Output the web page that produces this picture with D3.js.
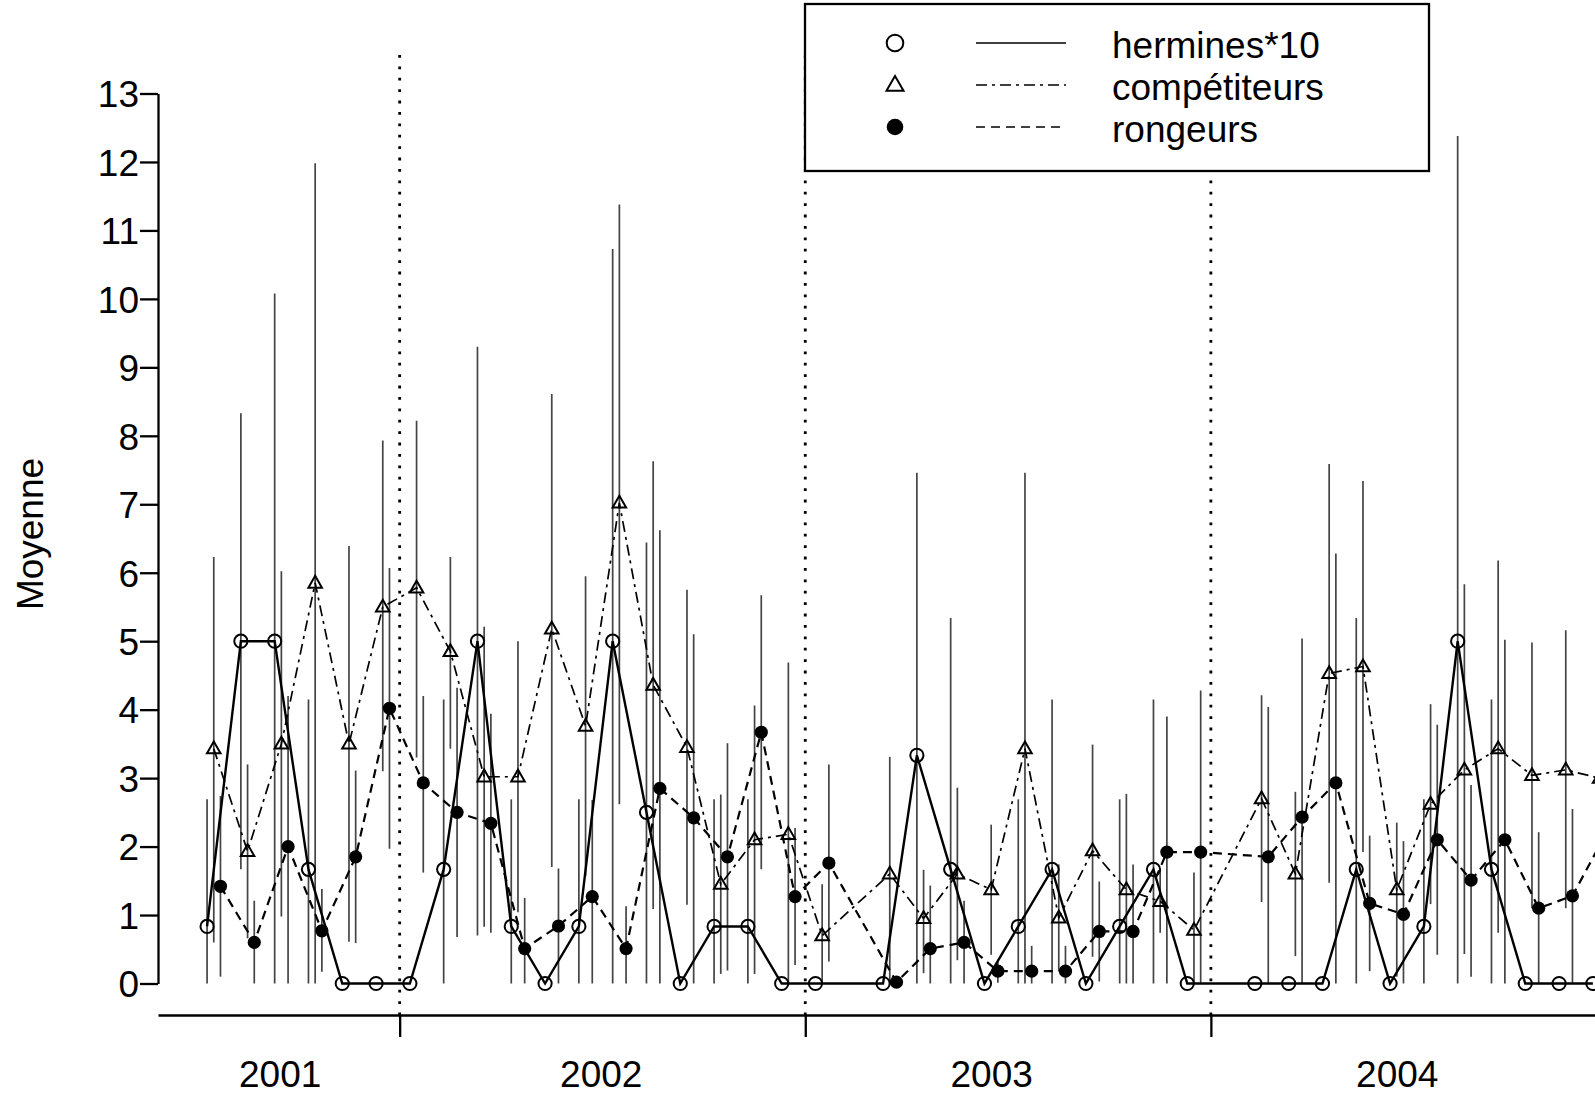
<!DOCTYPE html>
<html>
<head>
<meta charset="utf-8">
<script src="https://cdn.jsdelivr.net/npm/d3@7"></script>
<style>
    body { margin: 0; background: #fff; }
    svg { display: block; }
</style>
</head>
<body>
<script>
// #region DATA
var months = ["2001-07", "2001-08", "2001-09", "2001-10", "2001-11", "2001-12",
    "2002-01", "2002-02", "2002-03", "2002-04", "2002-05", "2002-06", "2002-07", "2002-08", "2002-09", "2002-10", "2002-11", "2002-12",
    "2003-01", "2003-02", "2003-03", "2003-04", "2003-05", "2003-06", "2003-07", "2003-08", "2003-09", "2003-10", "2003-11", "2003-12",
    "2004-01", "2004-02", "2004-03", "2004-04", "2004-05", "2004-06", "2004-07", "2004-08", "2004-09", "2004-10", "2004-11", "2004-12"];

// hermines*10 (null = no sampling that month)
var hermines = [0.833, 5, 5, 1.667, 0, 0,
    0, 1.667, 5, 0.833, 0, 0.833, 5, 2.5, 0, 0.833, 0.833, 0,
    0, null, 0, 3.333, 1.667, 0, 0.833, 1.667, 0, 0.833, 1.667, 0,
    null, 0, 0, 0, 1.667, 0, 0.833, 5, 1.667, 0, 0, 0];
var hermHi = [2.69, 8.33, 10.08, 4.15, 0, 0,
    0, 4.15, 9.3, 2.69, 0, 2.69, 10.73, 6.44, 0, 2.69, 2.69, 0,
    0, null, 0, 7.46, 5.34, 0, 2.69, 4.15, 0, 2.69, 4.15, 0,
    null, 0, 0, 0, 5.34, 0, 2.69, 12.38, 4.15, 0, 0, 0];
var hermLo = [0, 1.67, 0, 0, 0, 0,
    0, 0, 0.7, 0, 0, 0, 0, 0, 0, 0, 0, 0,
    0, null, 0, 0, 0, 0, 0, 0, 0, 0, 0, 0,
    null, 0, 0, 0, 0, 0, 0, 0, 0, 0, 0, 0];

// compétiteurs
var compet = [3.43, 1.93, 3.5, 5.85, 3.5, 5.5,
    5.78, 4.85, 3.02, 3.02, 5.18, 3.76, 7.02, 4.36, 3.45, 1.45, 2.1, 2.18,
    0.7, null, 1.6, 0.95, 1.6, 1.37, 3.43, 0.96, 1.94, 1.37, 1.2, 0.78,
    null, 2.7, 1.6, 4.53, 4.63, 1.37, 2.62, 3.12, 3.43, 3.04, 3.12, 3.0];
var compHi = [6.23, 3.2, 6.02, 11.98, 6.39, 7.93,
    8.22, 6.23, 5.21, 5.0, 8.61, 5.95, 11.38, 7.63, 5.75, 2.76, 4.06, 4.69,
    1.45, null, 3.31, 1.66, 2.86, 2.32, 7.46, 1.74, 3.49, 2.77, 1.66, 1.62,
    null, 4.21, 2.8, 7.59, 7.34, 2.35, 4.08, 5.83, 6.18, 4.98, 5.16, 5.0];
var compLo = [0.6, 0.66, 0.98, 0, 0.61, 3.1,
    3.3, 3.43, 0.83, 1.04, 1.7, 1.57, 2.62, 1.09, 1.15, 0.14, 0.14, 0,
    0, null, 0, 0.15, 0.34, 0.42, 0, 0.18, 0.39, 0, 0.74, 0,
    null, 1.19, 0.4, 1.47, 1.92, 0.1, 1.16, 0.43, 0.74, 1.1, 1.1, 1.0];

// rongeurs
var rongeurs = [1.42, 0.6, 2.0, 0.77, 1.85, 4.02,
    2.93, 2.5, 2.34, 0.51, 0.84, 1.27, 0.51, 2.85, 2.42, 1.85, 3.67, 1.27,
    1.76, null, 0.02, 0.51, 0.6, 0.18, 0.18, 0.18, 0.76, 0.76, 1.92, 1.92,
    null, 1.85, 2.43, 2.93, 1.17, 1.01, 2.1, 1.51, 2.1, 1.1, 1.28, 2.2];
var rongHi = [2.74, 1.21, 4.2, 1.38, 3.11, 6.07,
    4.2, 4.32, 3.94, 1.25, 1.68, 2.68, 1.13, 6.62, 5.1, 3.51, 5.67, 2.27,
    3.2, null, 0.02, 1.43, 1.21, 0.35, 0.55, 0.55, 1.49, 1.74, 3.9, 4.28,
    null, 4.04, 5.04, 6.28, 2.16, 2.08, 3.78, 2.9, 5.02, 2.21, 2.55, 3.5];
var rongLo = [0.1, 0, 0, 0.17, 0.59, 1.97,
    1.62, 0.68, 0.74, 0, 0, 0, 0, 0, 0, 0.19, 1.67, 0.27,
    0.32, null, 0.02, 0, 0, 0.01, 0, 0, 0.03, 0, 0, 0,
    null, 0, 0, 0, 0.18, 0, 0.42, 0.1, 0, 0, 0, 0.9];

var years = ["2001", "2002", "2003", "2004"];
var yearLabelAt = [1.95, 11.45, 23.0, 35.0];   // in month index units
var yearBreaks = [5.5, 17.5, 29.5];            // between december and january
var yTicks = [0, 1, 2, 3, 4, 5, 6, 7, 8, 9, 10, 11, 12, 13];
var seriesNames = ["hermines*10", "compétiteurs", "rongeurs"];
// #endregion

// #region SETUP
var W = 1595, H = 1099;
var fontFam = "'Liberation Sans', Arial, sans-serif";

var svg = d3.select("body")
    .append("svg")
    .attr("width", W)
    .attr("height", H)
    .style("font-family", fontFam);

svg.append("rect")
    .attr("width", W)
    .attr("height", H)
    .attr("fill", "#fff");

var x = d3.scaleLinear()
    .domain([-1.65, 42.5])
    .range([158, 158 + 44.15 * 33.8]);

var y = d3.scaleLinear()
    .domain([0, 13])
    .range([983.5, 93.5]);

var dx = 6.7;        // horizontal shift of hermines (left) and rongeurs (right)
var axisY = 1015;    // horizontal axis line
var plotTop = 55;
// #endregion

// #region AXES
// dotted year separators
svg.append("g")
    .selectAll("line")
    .data(yearBreaks)
    .enter()
    .append("line")
        .attr("x1", d => x(d))
        .attr("x2", d => x(d))
        .attr("y1", plotTop)
        .attr("y2", axisY)
        .attr("stroke", "#000")
        .attr("stroke-width", 2.8)
        .attr("stroke-dasharray", "2.8,8.6");

var yAxis = svg.append("g")
    .attr("transform", "translate(" + x.range()[0] + ",0)")
    .call(d3.axisLeft(y).tickValues(yTicks).tickSize(18).tickSizeOuter(0).tickPadding(1));

yAxis.selectAll("path, line")
    .attr("stroke", "#000")
    .attr("stroke-width", 2.3);
yAxis.selectAll("text")
    .attr("font-size", "37px")
    .attr("font-family", fontFam)
    .attr("fill", "#000")
    .attr("dy", "0.36em");

// bottom axis: year breaks as ticks
var xAxis = svg.append("g")
    .attr("transform", "translate(0," + axisY + ")")
    .call(d3.axisBottom(x).tickValues(yearBreaks).tickSize(22).tickSizeOuter(0).tickFormat(""));

xAxis.selectAll("path, line")
    .attr("stroke", "#000")
    .attr("stroke-width", 2.3);

// year labels
var xLabels = svg.append("g")
    .attr("transform", "translate(0," + axisY + ")")
    .call(d3.axisBottom(x).tickValues(yearLabelAt).tickSize(0).tickPadding(46)
        .tickFormat((d, i) => years[i]));

xLabels.select(".domain").remove();
xLabels.selectAll("text")
    .attr("font-size", "37px")
    .attr("font-family", fontFam)
    .attr("fill", "#000");

svg.append("text")
    .attr("transform", "translate(43,534) rotate(-90)")
    .attr("text-anchor", "middle")
    .attr("font-size", "37px")
    .text("Moyenne");
// #endregion

// #region SERIES
var series = [
    {name: seriesNames[0], mean: hermines, hi: hermHi, lo: hermLo, shift: -dx, dash: null, width: 2.4, shape: "circle"},
    {name: seriesNames[1], mean: compet, hi: compHi, lo: compLo, shift: 0, dash: "11,5,3,5", width: 1.7, shape: "triangle"},
    {name: seriesNames[2], mean: rongeurs, hi: rongHi, lo: rongLo, shift: dx, dash: "9,6", width: 2.2, shape: "dot"}
];

series.forEach(function(s) {
    s.points = [];
    for (var i = 0; i < s.mean.length; i++) {
        if (s.mean[i] == null) continue;   // skipped months are bridged
        s.points.push({i: i, v: s.mean[i], hi: s.hi[i], lo: s.lo[i]});
    }
});

var px = (s, d) => x(d.i) + s.shift;

// error bars
series.forEach(function(s) {
    svg.append("g")
        .selectAll("line")
        .data(s.points.filter(d => d.hi > d.lo))
        .enter()
        .append("line")
            .attr("x1", d => px(s, d))
            .attr("x2", d => px(s, d))
            .attr("y1", d => y(d.hi))
            .attr("y2", d => y(d.lo))
            .attr("stroke", "#444")
            .attr("stroke-width", 1.7);
});

var line = d3.line();

series.forEach(function(s) {
    svg.append("path")
        .attr("d", line(s.points.map(d => [px(s, d), y(d.v)])))
        .attr("fill", "none")
        .attr("stroke", "#000")
        .attr("stroke-width", s.width)
        .attr("stroke-dasharray", s.dash);
});

// markers
var triPath = function(r) {
    return "M0," + (-r) + "L" + (r * 0.95) + "," + (r * 0.65) + "L" + (-r * 0.95) + "," + (r * 0.65) + "Z";
};

var drawMarker = function(g, shape, size) {
    if (shape == "circle") {
        g.append("circle").attr("r", size).attr("fill", "none").attr("stroke", "#000").attr("stroke-width", 2.0);
    } else if (shape == "triangle") {
        g.append("path").attr("d", triPath(size * 1.08)).attr("fill", "none").attr("stroke", "#000").attr("stroke-width", 2.0);
    } else {
        g.append("circle").attr("r", size).attr("fill", "#000");
    }
};

series.forEach(function(s) {
    svg.append("g")
        .selectAll("g")
        .data(s.points)
        .enter()
        .append("g")
            .attr("transform", d => "translate(" + px(s, d) + "," + y(d.v) + ")")
            .each(function() { drawMarker(d3.select(this), s.shape, 6.6); });
});
// #endregion

// #region LEGEND
var legend = svg.append("g");

legend.append("rect")
    .attr("x", 805)
    .attr("y", 4)
    .attr("width", 624)
    .attr("height", 167)
    .attr("fill", "#fff")
    .attr("stroke", "#000")
    .attr("stroke-width", 2.3);

var rowY = [43, 85, 127];

series.forEach(function(s, k) {
    var g = legend.append("g").attr("transform", "translate(895," + rowY[k] + ")");
    drawMarker(g, s.shape, 8.3);

    legend.append("line")
        .attr("x1", 976)
        .attr("x2", 1066)
        .attr("y1", rowY[k])
        .attr("y2", rowY[k])
        .attr("stroke", "#000")
        .attr("stroke-width", 1.6)
        .attr("stroke-dasharray", s.dash);

    legend.append("text")
        .attr("x", 1112)
        .attr("y", rowY[k] + 15)
        .attr("font-size", "37px")
        .text(s.name);
});
// #endregion
</script>
</body>
</html>
